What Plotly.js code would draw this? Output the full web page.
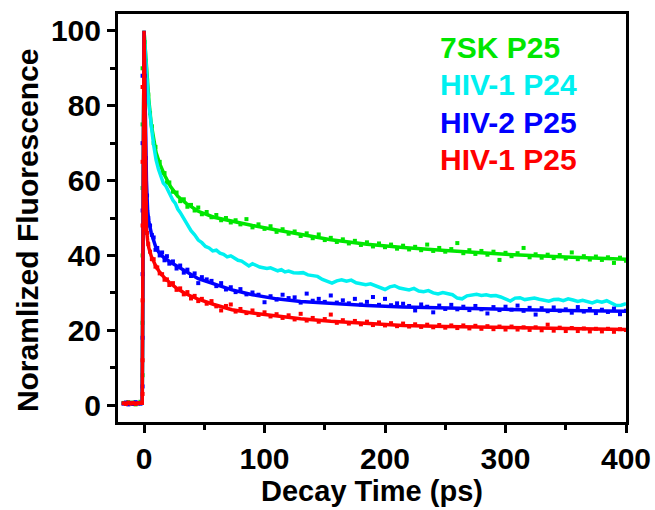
<!DOCTYPE html>
<html>
<head>
<meta charset="utf-8">
<script src="https://cdn.plot.ly/plotly-3.0.1.min.js"></script>
<style>html,body{margin:0;padding:0;background:#fff;}#chart{width:655px;height:510px;}</style>
</head>
<body>
<div id="chart"></div>
<script>
// Series names (legend text)
const seriesNames = ["7SK P25", "HIV-1 P24", "HIV-2 P25", "HIV-1 P25"];
const xTitle = "Decay Time (ps)";
const yTitle = "Noramlized Fluorescence";

// Time axis of the measured dots (ps)
const tDots = [-17,-15,-13,-11,-9,-7,-5,-3,
  -1.2,-1.2,-1.2,-1.2,-1.2,-1.2,
  0.5,1.5,2.5,3.5,5,6.5,8,9.5,11,13,15,17,19,21,
  24,27,30,33,36,39,42,45,48,
  52,56,60,64,68,72,76,80,
  85,90,95,100,105,110,115,120,125,130,
  135,140,145,150,155,160,165,170,175,180,
  185,190,195,200,205,210,215,220,225,230,
  235,240,245,250,255,260,265,270,275,280,
  285,290,295,300,305,310,315,320,325,330,
  335,340,345,350,355,360,365,370,375,380,
  385,390,395,400];

// 7SK P25 measured dots
const green7SK = [0.6,0.3,0.8,0.4,0.7,0.2,0.6,0.9,
  8,22,40,58,75,90,
  97,92,87,83,78,74.5,70,69,65.5,65,62,62,59.5,59.5,
  57,56.8,54.5,55,53,53.5,52,52.8,51,
  51.6,50.2,50.8,49.4,50,48.8,49.4,48.3,
  49.7,47.5,48.3,47.1,47.8,46.3,47,45.8,46.4,45.2,
  45.9,44.6,45.6,44.1,44.7,43.6,44.3,43.2,43.9,42.8,
  43.5,42.4,43.2,42.2,42.9,41.8,42.6,41.6,42.3,41.4,
  42.9,41.2,42,41,41.7,43.3,40.6,41.4,40.4,41.2,
  40.2,41,38.8,40.7,39.8,40.6,42,39.5,40.3,39.4,
  40.2,39.3,40.1,39.2,40.8,39,39.8,38.9,39.7,38.8,
  39.5,38,39.4,38.6];

// HIV-2 P25 measured dots
const blueHIV2 = [0.4,0.7,0.2,0.6,0.3,0.8,0.5,0.4,
  5,18,35,52,70,88,
  88,66,56,50,48,45.5,44.8,41.5,42,40,40.8,38.7,39.8,37.8,
  38.4,36.5,37.3,35.4,36.2,34.5,35.2,32.6,34.2,
  33.6,33.2,31.8,32.6,30.9,31.5,30.2,31,
  29.6,30.1,29.5,27.5,29.1,28.2,29.5,28.6,28.8,27.4,
  29.8,27.9,28.4,27.6,29.3,27.4,28,27.2,28.4,26.9,
  27.6,28.9,26.8,28.4,26.7,27.2,27.1,26.5,25.3,26.9,
  26.3,24.8,26.6,25.7,26.8,25.6,26.3,25.4,26.5,25.6,
  24.5,26.2,25.4,26.3,25.5,26.6,25.2,26,24.2,25.9,
  25.1,26.1,25.2,25.6,24.7,26.2,25,25.7,24.6,25.5,
  24.9,25.8,24.3,25.2];

// HIV-1 P25 measured dots
const redHIV1 = [0.5,0.3,0.7,0.4,0.6,0.3,0.5,0.6,
  3,12,28,48,65,85,
  80,54,46,43,41,39,39,37,36.8,35.2,35,33.5,33.6,32.1,
  32.6,30.8,31.2,29.6,30.2,28.5,29.2,27.8,28.4,
  27.1,27.8,26.4,25.3,26.5,26.9,25,25.7,
  24.6,25.3,24.1,24.8,23.7,24.3,23.3,24,22.9,24.4,
  22.6,23.3,22.3,23,24.2,22,22.7,21.8,22.5,21.6,
  22.3,21.4,22.1,21.3,21.9,21.1,21.8,21,21.6,20.9,
  21.5,20.8,21.4,20.7,21.3,20.6,21.3,20.5,21.2,20.4,
  21.1,20.3,21,20.2,21,20.2,20.8,20.1,20.8,20,
  21.5,19.9,20.7,19.8,20.6,19.8,20.5,19.7,20.4,19.7,
  20.4,19.6,20.3,20.1];

// Fit curves (read at these times)
const tFit = [-17,-1.5,0,1,2,3,4,6,8,10,13,17,22,28,35,45,58,73,90,110,130,155,185,215,250,300,350,400];
const fitGreen = [0.5,0.5,100,95,90,85.5,81.5,75,70.5,67.5,64.5,61.5,58.4,55.8,53.9,51.8,50.2,49.1,48,46.8,45.6,44.2,43,42.1,41.3,40.3,39.6,39];
const fitBlue  = [0.5,0.5,100,75,60,52,49,46,44,42,40.5,39.3,38.2,37,35.6,33.8,32.4,30.8,29.5,28.4,27.7,27.1,26.6,26.2,25.9,25.6,25.3,25.1];
const fitRed   = [0.5,0.5,100,60,47,44,42,39.8,38.3,37,35.5,34,32.5,31,29.7,28.3,26.9,25.5,24.6,23.8,23.1,22.4,21.8,21.3,21,20.7,20.4,20.2];

// HIV-1 P24 trace (cyan)
const tCyan = [-17,-14,-11,-8,-5,-2,-1.5,
  0,1,2,3,4,5,6,7,8,9,10,
  12,14,16,18,20,22,24,26,28,30,
  33,36,39,42,45,48,51,54,57,60,63,66,69,72,75,78,81,84,87,90,93,96,99,102,105,108,111,114,117,120,
  124,128,132,136,140,144,148,152,156,160,164,168,172,176,180,184,188,192,196,200,
  204,208,212,216,220,224,228,232,236,240,244,248,252,256,260,264,268,272,276,280,
  284,288,292,296,300,304,308,312,316,320,324,328,332,336,340,344,348,352,356,360,
  364,368,372,376,380,384,388,392,396,400];
const cyanHIV1P24 = [0.4,0.6,0.3,0.5,0.4,0.6,0.5,
  100,94,89,84.5,80.5,77,74.5,72,69.5,67.5,65.5,
  63,61.2,59.3,58.6,57.2,56.2,54.7,53.9,52.4,51.5,
  49.8,48.5,46.6,45.5,44.1,43.4,42.4,42,41.2,41.4,40.6,40.3,39.6,39.9,39.2,38.7,38.5,37.7,37.2,37.8,37.3,36.9,36.7,36.5,36.7,36.3,35.9,36.2,35.6,35.8,
  35.4,35.3,35.4,34.8,34.6,34.4,33.6,33.1,32.6,33.2,33.5,33.1,33.4,32.7,32.5,32.2,32.4,31.9,31.4,30.9,
  31.6,31.9,31.3,31.1,30.8,31.2,30.5,30.3,30.6,30,29.7,30.1,29.8,29.5,28.6,28.4,29.2,29.5,29.6,29.3,
  29.5,29.2,29.3,28.9,28.3,27.8,28.6,28.7,28.2,28.4,28.6,28.3,28.1,27.8,28.2,28.3,27.9,28.4,28.1,27.7,
  28,27.6,27.3,27.8,27.5,27.9,27.2,26.6,26.7,27.1];

const colors = ["#00e600", "#00f0f0", "#0000ff", "#ff0000"];

const FONT = "Liberation Sans, Arial, sans-serif";

function dots(y, c, name) {
  return {x: tDots, y: y, mode: "markers", type: "scatter", name: name, showlegend: false,
    marker: {symbol: "square", size: 4, color: c, line: {width: 0}}};
}
function fit(y, c, name) {
  return {x: tFit, y: y, mode: "lines", type: "scatter", name: name + " fit", showlegend: false,
    line: {color: c, width: 3.5}};
}

const data = [
  dots(green7SK, colors[0], seriesNames[0]),
  fit(fitGreen, colors[0], seriesNames[0]),
  {x: tCyan, y: cyanHIV1P24, mode: "lines", type: "scatter", name: seriesNames[1], showlegend: false,
    line: {color: colors[1], width: 3.5}},
  dots(blueHIV2, colors[2], seriesNames[2]),
  fit(fitBlue, colors[2], seriesNames[2]),
  dots(redHIV1, colors[3], seriesNames[3]),
  fit(fitRed, colors[3], seriesNames[3])
];

const legendY = [0.917, 0.826, 0.734, 0.643];
const annotations = seriesNames.map((n, i) => ({
  text: n, xref: "paper", yref: "paper", x: 0.629, y: legendY[i],
  xanchor: "left", yanchor: "middle", showarrow: false,
  font: {family: FONT, size: 30, color: colors[i], weight: "bold"}
}));
annotations.push({
  text: yTitle, xref: "paper", yref: "paper", x: -0.179, y: 0.468,
  xanchor: "center", yanchor: "middle", textangle: -90, showarrow: false,
  font: {family: FONT, size: 30, color: "#000", weight: "bold"}
});

const axisCommon = {
  showline: true, linecolor: "#000", linewidth: 3, mirror: true,
  ticks: "outside", ticklen: 8, tickwidth: 3, tickcolor: "#000",
  showgrid: false, zeroline: false,
  tickfont: {family: FONT, size: 30, color: "#000", weight: "bold"}
};

const layout = {
  width: 655, height: 510,
  margin: {l: 118, r: 29, t: 14, b: 88},
  paper_bgcolor: "#fff", plot_bgcolor: "#fff",
  showlegend: false,
  xaxis: Object.assign({}, axisCommon, {
    range: [-21.6, 400], tickvals: [0, 100, 200, 300, 400],
    minor: {tickvals: [50, 150, 250, 350], ticklen: 5, tickwidth: 3, tickcolor: "#000", ticks: "outside"},
    title: {text: xTitle, font: {family: FONT, size: 29, color: "#000", weight: "bold"}, standoff: 4}
  }),
  yaxis: Object.assign({}, axisCommon, {
    range: [-4.5, 104.5], tickvals: [0, 20, 40, 60, 80, 100],
    minor: {tickvals: [10, 30, 50, 70, 90], ticklen: 5, tickwidth: 3, tickcolor: "#000", ticks: "outside"}
  }),
  annotations: annotations
};

Plotly.newPlot("chart", data, layout, {displayModeBar: false, staticPlot: true});
</script>
</body>
</html>
